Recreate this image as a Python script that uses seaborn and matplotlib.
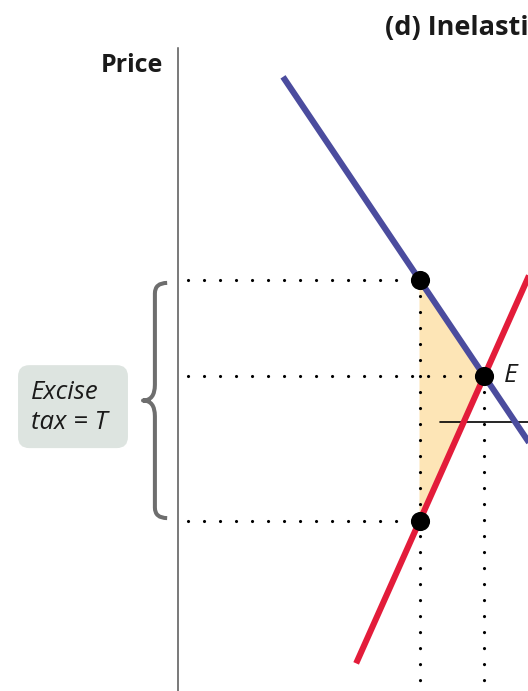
import numpy as np
import pandas as pd
import matplotlib
matplotlib.use("Agg")
import matplotlib.pyplot as plt
from matplotlib.path import Path
from matplotlib.patches import PathPatch, FancyBboxPatch
import seaborn as sns

# Market values (quantity, price) in chart units
q_tax = 6.9          # quantity traded with the tax
q_eq = 8.75          # equilibrium quantity without the tax
p_buyers = 11.75     # price paid by buyers
p_eq = 9.0           # equilibrium price
p_sellers = 4.85     # price received by sellers

demand_q = [3.0, 10.5]
supply_q = [5.09, 10.5]

title_text = "(d) Inelastic Supply"
y_label = "Price"
tax_label = "Excise\ntax = T"
eq_label = "E"

# Linear demand and supply through the marked points
d_slope = (p_eq - p_buyers) / (q_eq - q_tax)
s_slope = (p_eq - p_sellers) / (q_eq - q_tax)
demand = pd.DataFrame({"q": demand_q,
                       "p": [p_eq + d_slope * (q - q_eq) for q in demand_q]})
supply = pd.DataFrame({"q": supply_q,
                       "p": [p_eq + s_slope * (q - q_eq) for q in supply_q]})
points = pd.DataFrame({"q": [q_tax, q_eq, q_tax],
                       "p": [p_buyers, p_eq, p_sellers]})

sns.set_theme(style="white")
plt.rcParams["font.family"] = ["Open Sans", "DejaVu Sans"]

W, H = 528, 691
fig = plt.figure(figsize=(W / 100, H / 100), dpi=100)
fig.patch.set_facecolor("white")
ax = fig.add_axes([178 / W, 0, 350 / W, 643 / H])
ax.set_xlim(0, 10)
ax.set_ylim(0, 643 / 35)
ax.set_facecolor("white")
for side in ["top", "right", "bottom"]:
    ax.spines[side].set_visible(False)
ax.spines["left"].set_color("#555555")
ax.spines["left"].set_linewidth(1.1)
ax.set_xticks([])
ax.set_yticks([])

# Shaded wedge between demand, supply and the taxed quantity
ax.fill([q_tax, q_eq, q_tax], [p_buyers, p_eq, p_sellers],
        color="#fde5b6", lw=0, zorder=1)

# Dotted guide lines
dot_kw = dict(color="black", lw=2.3, linestyle=(0, (0.01, 5.0)),
              dash_capstyle="round", zorder=2)
x0 = 0.28
ax.plot([x0, q_tax], [p_buyers, p_buyers], **dot_kw)
ax.plot([x0, q_eq], [p_eq, p_eq], **dot_kw)
ax.plot([x0, q_tax], [p_sellers, p_sellers], **dot_kw)
ax.plot([q_tax, q_tax], [p_buyers, 0], **dot_kw)
ax.plot([q_eq, q_eq], [p_eq, 0], **dot_kw)

# Leader line
ax.plot([7.49, 10.5], [7.69, 7.69], color="black", lw=1.2, zorder=2)

# Demand and supply curves
sns.lineplot(data=demand, x="q", y="p", ax=ax, color="#4b4c9e", lw=4.4,
             zorder=3, solid_capstyle="butt")
sns.lineplot(data=supply, x="q", y="p", ax=ax, color="#e31c3a", lw=4.4,
             zorder=3, solid_capstyle="butt")

sns.scatterplot(data=points, x="q", y="p", ax=ax, color="black", s=190,
                linewidth=0, zorder=5, clip_on=False)
ax.set_xlabel("")
ax.set_ylabel("")

# Brace spanning the tax wedge
top, bot = p_buyers - 0.09, p_sellers + 0.09
mid = (top + bot) / 2
stem, hook, tip = -0.66, -0.31, -1.0
r = 0.3
rt = 0.45
verts = [(hook, top), (stem, top), (stem, top - r),
         (stem, mid + rt), (stem, mid), (tip, mid),
         (stem, mid), (stem, mid - rt),
         (stem, bot + r), (stem, bot), (hook, bot)]
codes = [Path.MOVETO, Path.CURVE3, Path.CURVE3,
         Path.LINETO, Path.CURVE3, Path.CURVE3,
         Path.CURVE3, Path.CURVE3,
         Path.LINETO, Path.CURVE3, Path.CURVE3]
ax.add_patch(PathPatch(Path(verts, codes), fill=False, edgecolor="#6e6e6e",
                       lw=2.9, capstyle="butt", joinstyle="round",
                       clip_on=False, zorder=4))

# Tax label box
ax.add_patch(FancyBboxPatch((-4.57, 6.94), 3.14, 2.37,
                            boxstyle="round,pad=0,rounding_size=0.32",
                            facecolor="#dde4e0", edgecolor="none",
                            clip_on=False, zorder=4))
ax.text(-4.19, 8.1, tax_label, fontsize=18.5, style="italic",
        color="#1a1a1a", ha="left", va="center", linespacing=1.22,
        clip_on=False, zorder=5)

ax.text(9.3, p_eq, eq_label, fontsize=19, style="italic", color="#1a1a1a",
        ha="left", va="center", zorder=5)

ax.text(-0.43, 17.86, y_label, fontsize=18, fontweight="bold",
        color="#1a1a1a", ha="right", va="center", clip_on=False)
ax.text(5.91, 18.94, title_text, fontsize=19.5, fontweight="bold",
        color="#1a1a1a", ha="left", va="center", clip_on=False)

fig.savefig("out.png", dpi=100)
